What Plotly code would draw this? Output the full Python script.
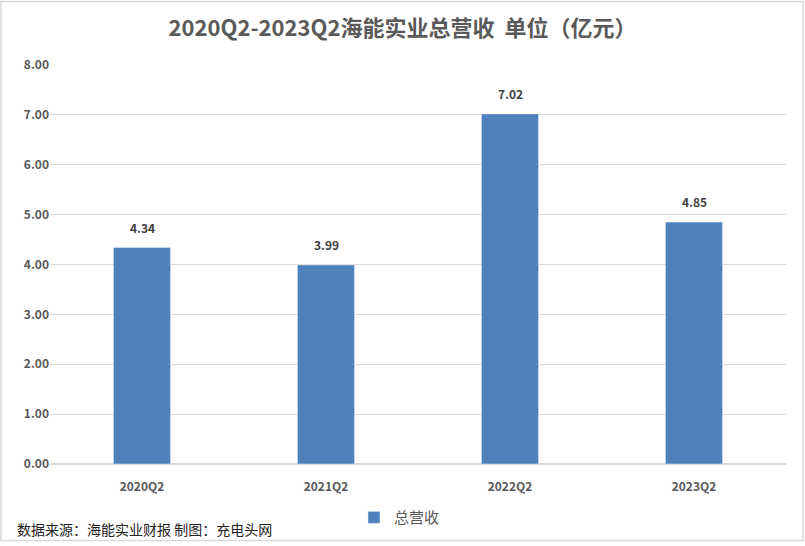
import plotly.graph_objects as go

categories = ["2020Q2", "2021Q2", "2022Q2", "2023Q2"]
revenue = [4.34, 3.99, 7.02, 4.85]
y_ticks = [0, 1, 2, 3, 4, 5, 6, 7, 8]
y_tick_labels = [f"{v:.2f}" for v in y_ticks]

W, H = 805, 546
L, R, T, B = 50, 19, 65, 79
pw, ph = W - L - R, H - T - B

def px_x(x):
    return (x - L) / pw

def px_y(y):
    return (H - B - y) / ph

font = "Noto Sans CJK SC, Microsoft YaHei, sans-serif"

fig = go.Figure()
fig.add_trace(go.Bar(
    x=categories, y=revenue, name="总营收",
    marker_color="#4F81BD",
))

label_annots = [dict(x=c, y=v, text=f"<b>{v:.2f}</b>", xref="x", yref="y",
                     showarrow=False, yanchor="bottom", yshift=10,
                     font=dict(size=12, color="#404040", family=font))
                for c, v in zip(categories, revenue)]

fig.update_layout(
    width=W, height=H,
    margin=dict(l=L, r=R, t=T, b=B),
    paper_bgcolor="white", plot_bgcolor="white",
    font=dict(family=font),
    bargap=0.69,
    title=dict(text="<b>2020Q2-2023Q2海能实业总营收  单位（亿元）</b>",
               x=0.5, xanchor="center", y=1 - 28 / H, yanchor="middle",
               font=dict(size=22, color="#595959", family=font)),
    xaxis=dict(showgrid=False, showline=False, ticks="", ticklabelstandoff=14,
               tickfont=dict(size=12, color="#595959", family=font, weight="bold")),
    yaxis=dict(range=[0, 8], tickvals=y_ticks, ticktext=y_tick_labels,
               showgrid=True, gridcolor="#D9D9D9", gridwidth=1,
               zeroline=True, zerolinecolor="#D9D9D9", showline=False,
               tickfont=dict(size=12, color="#595959", family=font, weight="bold")),
    showlegend=True,
    legend=dict(orientation="h", x=px_x(354), xanchor="left", y=px_y(521), yanchor="middle",
                itemwidth=30,
                font=dict(size=15, color="#595959", family=font)),
    annotations=label_annots + [dict(text="数据来源：海能实业财报 制图：充电头网", xref="paper", yref="paper",
                      x=px_x(15), y=px_y(532), xanchor="left", yanchor="middle",
                      showarrow=False, font=dict(size=14, color="#222222", family=font))],
    shapes=[dict(type="rect", xref="paper", yref="paper",
                 x0=px_x(1), x1=px_x(W - 2), y0=px_y(H - 2), y1=px_y(1),
                 line=dict(color="#D9D9D9", width=1.5), layer="below")],
)

fig.write_html("out.html")
